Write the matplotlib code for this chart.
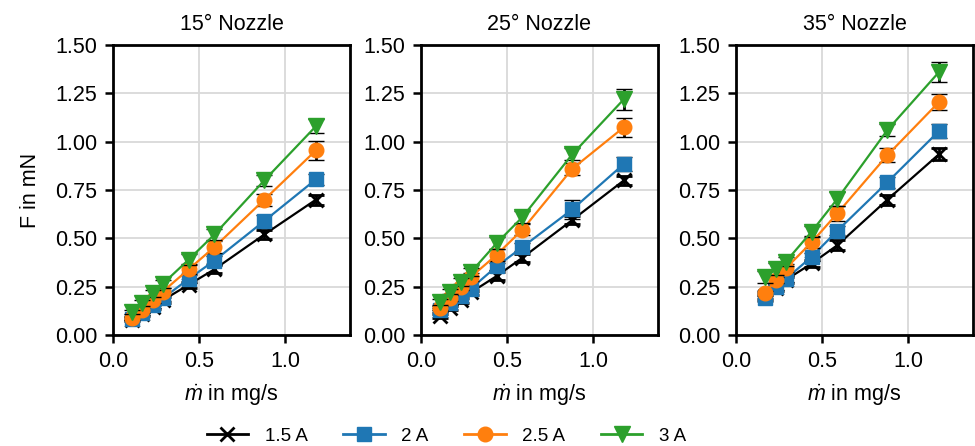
import matplotlib
matplotlib.use("Agg")
import matplotlib.pyplot as plt
from matplotlib.lines import Line2D

plt.rcParams['font.family'] = ['Liberation Sans', 'DejaVu Sans']
plt.rcParams['font.size'] = 15.5
plt.rcParams['mathtext.fontset'] = 'custom'
plt.rcParams['mathtext.it'] = 'Liberation Sans:italic'
plt.rcParams['mathtext.rm'] = 'Liberation Sans'

titles = ["15° Nozzle", "25° Nozzle", "35° Nozzle"]
labels = ["1.5 A", "2 A", "2.5 A", "3 A"]

mdot_15 = [0.11, 0.17, 0.23, 0.29, 0.44, 0.59, 0.88, 1.18]
mdot_25 = [0.11, 0.17, 0.23, 0.29, 0.44, 0.59, 0.88, 1.18]
mdot_35 = [0.17, 0.23, 0.29, 0.44, 0.59, 0.88, 1.18]

# Nozzle 15
f15_a15 = [0.08, 0.11, 0.145, 0.18, 0.26, 0.34, 0.52, 0.70]
f15_a20 = [0.085, 0.115, 0.155, 0.19, 0.29, 0.385, 0.59, 0.805]
f15_a25 = [0.09, 0.13, 0.18, 0.225, 0.34, 0.455, 0.70, 0.955]
f15_a30 = [0.12, 0.165, 0.215, 0.265, 0.39, 0.52, 0.80, 1.08]
e15_a15 = [0.01, 0.01, 0.01, 0.015, 0.015, 0.02, 0.025, 0.025]
e15_a20 = [0.01, 0.01, 0.015, 0.015, 0.02, 0.025, 0.03, 0.03]
e15_a25 = [0.01, 0.015, 0.015, 0.02, 0.025, 0.03, 0.03, 0.05]
e15_a30 = [0.01, 0.015, 0.02, 0.02, 0.03, 0.03, 0.03, 0.035]

# Nozzle 25
f25_a15 = [0.10, 0.14, 0.18, 0.22, 0.305, 0.40, 0.595, 0.80]
f25_a20 = [0.13, 0.165, 0.20, 0.24, 0.355, 0.455, 0.65, 0.885]
f25_a25 = [0.14, 0.19, 0.25, 0.30, 0.415, 0.545, 0.86, 1.075]
f25_a30 = [0.17, 0.225, 0.275, 0.325, 0.475, 0.61, 0.935, 1.22]
e25_a15 = [0.01, 0.01, 0.015, 0.015, 0.02, 0.02, 0.02, 0.025]
e25_a20 = [0.01, 0.01, 0.015, 0.015, 0.02, 0.02, 0.05, 0.035]
e25_a25 = [0.01, 0.015, 0.015, 0.02, 0.03, 0.03, 0.03, 0.05]
e25_a30 = [0.015, 0.015, 0.02, 0.02, 0.03, 0.03, 0.03, 0.055]

# Nozzle 35
f35_a15 = [0.20, 0.245, 0.285, 0.37, 0.465, 0.70, 0.935]
f35_a20 = [0.19, 0.25, 0.29, 0.405, 0.54, 0.79, 1.055]
f35_a25 = [0.215, 0.285, 0.345, 0.48, 0.63, 0.93, 1.205]
f35_a30 = [0.30, 0.34, 0.38, 0.535, 0.705, 1.06, 1.36]
e35_a15 = [0.015, 0.015, 0.015, 0.02, 0.025, 0.025, 0.03]
e35_a20 = [0.015, 0.015, 0.015, 0.02, 0.025, 0.03, 0.035]
e35_a25 = [0.015, 0.015, 0.02, 0.03, 0.04, 0.035, 0.04]
e35_a30 = [0.03, 0.03, 0.025, 0.03, 0.035, 0.03, 0.05]

panels = [
    (mdot_15, [f15_a15, f15_a20, f15_a25, f15_a30], [e15_a15, e15_a20, e15_a25, e15_a30]),
    (mdot_25, [f25_a15, f25_a20, f25_a25, f25_a30], [e25_a15, e25_a20, e25_a25, e25_a30]),
    (mdot_35, [f35_a15, f35_a20, f35_a25, f35_a30], [e35_a15, e35_a20, e35_a25, e35_a30]),
]

colors = ["black", "#1f77b4", "#ff7f0e", "#2ca02c"]
markers = ["x", "s", "o", "v"]
msizes = [10, 10, 10.5, 11]

fig = plt.figure(figsize=(9.75, 4.46), dpi=100)
lefts = [0.1159, 0.4318, 0.7549]
for i, (x, ys, es) in enumerate(panels):
    ax = fig.add_axes([lefts[i], 0.2489, 0.243, 0.650])
    for j in range(4):
        ax.errorbar(x, ys[j], yerr=es[j], color=colors[j], marker=markers[j],
                    markersize=msizes[j], markeredgewidth=2 if markers[j] == 'x' else 1,
                    linewidth=1.6, ecolor='black', elinewidth=2, capsize=5.5,
                    capthick=2, zorder=3 + j)
    ax.set_xlim(0, 1.378)
    ax.set_ylim(0, 1.5)
    ax.set_xticks([0.0, 0.5, 1.0])
    ax.set_xticklabels(["0.0", "0.5", "1.0"])
    ax.set_yticks([0, 0.25, 0.5, 0.75, 1.0, 1.25, 1.5])
    ax.set_yticklabels(["0.00", "0.25", "0.50", "0.75", "1.00", "1.25", "1.50"])
    ax.grid(True, color="#d9d9d9", linewidth=1.3)
    ax.set_axisbelow(True)
    for s in ax.spines.values():
        s.set_linewidth(2)
    ax.tick_params(width=1.8, length=6, pad=5.5)
    ax.set_title(titles[i], fontsize=15.5, pad=11)
    ax.set_xlabel(r"$\dot{m}$ in mg/s", labelpad=8)
    if i == 0:
        ax.set_ylabel("F in mN", labelpad=10)

handles = [Line2D([], [], color=colors[j], marker=markers[j], markersize=msizes[j],
                  markeredgewidth=2 if markers[j] == 'x' else 1, linewidth=2)
           for j in range(4)]
fig.legend(handles, labels, loc="lower center", ncol=4, frameon=False,
           bbox_to_anchor=(0.458, -0.035), handlelength=2.2, columnspacing=1.9,
           handletextpad=0.9, fontsize=13.5)

fig.savefig("out.png", dpi=100)
